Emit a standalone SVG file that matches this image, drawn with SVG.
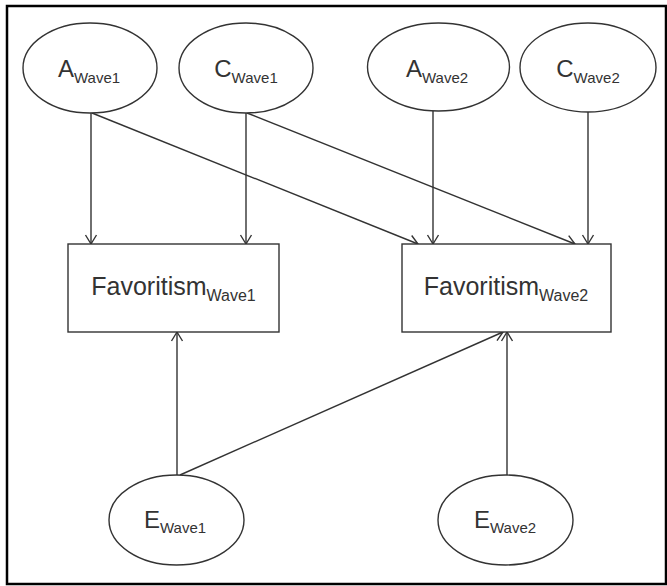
<svg xmlns="http://www.w3.org/2000/svg" width="667" height="586" viewBox="0 0 667 586">
<defs>
<style>
.frame{fill:#fff;stroke:#000;stroke-width:2.5}
.node ellipse,.node rect{fill:#fff;stroke:#333;stroke-width:1.4}
.lbl{font-family:"Liberation Sans","Open Sans",sans-serif;fill:#333;text-anchor:middle}
.edges line{stroke:#333;stroke-width:1.4;marker-end:url(#arr)}
</style>
<marker id="arr" markerUnits="userSpaceOnUse" markerWidth="14" markerHeight="14" viewBox="0 0 14 14" refX="12" refY="7" orient="auto">
<path d="M3,1.5 L12,7 L3,12.5" fill="none" stroke="#333" stroke-width="1.4"/>
</marker>
</defs>
<rect class="frame" x="7" y="6" width="659" height="578"/>
<g class="edges">
<line x1="91" y1="113" x2="91" y2="244"/>
<line x1="92" y1="113" x2="418" y2="244"/>
<line x1="246" y1="113" x2="246" y2="244"/>
<line x1="247" y1="113" x2="575" y2="244"/>
<line x1="433" y1="111" x2="433" y2="244"/>
<line x1="588" y1="112" x2="588" y2="244"/>
<line x1="177" y1="475" x2="177" y2="332"/>
<line x1="180" y1="475" x2="503" y2="332"/>
<line x1="507" y1="475" x2="507" y2="332"/>
</g>
<g id="A1" class="node"><ellipse cx="90" cy="68" rx="67" ry="45"/><text class="lbl" x="89" y="77" font-size="24">A<tspan font-size="15" dy="6">Wave1</tspan></text></g>
<g id="C1" class="node"><ellipse cx="246" cy="68" rx="67" ry="45"/><text class="lbl" x="246" y="77" font-size="24">C<tspan font-size="15" dy="6">Wave1</tspan></text></g>
<g id="A2" class="node"><ellipse cx="438.5" cy="67" rx="71" ry="44"/><text class="lbl" x="437" y="77" font-size="24">A<tspan font-size="15" dy="6">Wave2</tspan></text></g>
<g id="C2" class="node"><ellipse cx="588" cy="67.5" rx="68" ry="44.5"/><text class="lbl" x="588" y="77" font-size="24">C<tspan font-size="15" dy="6">Wave2</tspan></text></g>
<g id="F1" class="node"><rect x="68" y="244" width="211" height="88"/><text class="lbl" x="173.5" y="295" font-size="25">Favoritism<tspan font-size="16" dy="6">Wave1</tspan></text></g>
<g id="F2" class="node"><rect x="402" y="244" width="209" height="88"/><text class="lbl" x="506" y="295" font-size="25">Favoritism<tspan font-size="16" dy="6">Wave2</tspan></text></g>
<g id="E1" class="node"><ellipse cx="176.5" cy="520" rx="67.5" ry="45"/><text class="lbl" x="175" y="528" font-size="24">E<tspan font-size="15" dy="5">Wave1</tspan></text></g>
<g id="E2" class="node"><ellipse cx="505.5" cy="520" rx="67.5" ry="45"/><text class="lbl" x="505" y="528" font-size="24">E<tspan font-size="15" dy="5">Wave2</tspan></text></g>
</svg>
